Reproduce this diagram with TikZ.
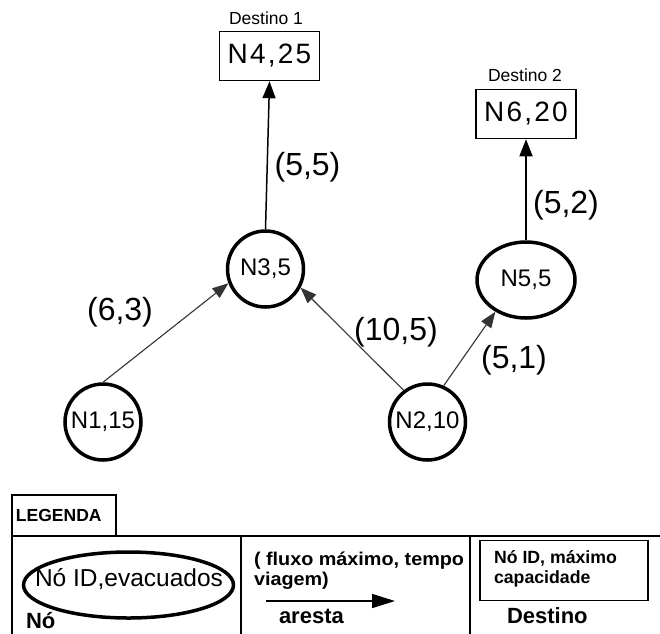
\documentclass[tikz,border=0pt]{standalone}
\usepackage{fontspec}
\setmainfont{Liberation Sans}
\newfontfamily\spacedfont[LetterSpace=8]{Liberation Sans}
\newfontfamily\widefont[FakeStretch=1.07]{Liberation Sans}
\usetikzlibrary{arrows.meta,shapes.geometric}
\newcommand{\fsz}[1]{\fontsize{#1}{#1}\selectfont}
\tikzset{
  circnode/.style={circle, draw, line width=3.5pt, minimum size=76pt, inner sep=0pt, font=\fsz{24}},
  ellnode/.style={ellipse, draw, line width=3.5pt, minimum width=98pt, minimum height=76pt, inner sep=0pt, font=\fsz{24}},
  destbox/.style={rectangle, draw, line width=1.5pt, minimum width=100pt, minimum height=49pt, inner sep=0pt, font=\fsz{28}\spacedfont},
  txt/.style={inner sep=0pt, outer sep=0pt, anchor=base},
  txtw/.style={inner sep=0pt, outer sep=0pt, anchor=base west},
  edgethin/.style={line width=1.1pt, draw=black!80, -{Triangle[length=16pt,width=12pt]}},
  edgethick/.style={line width=1.5pt, -{Triangle[length=17pt,width=13pt]}},
  legline/.style={line width=1.5pt}
}
\begin{document}
\begin{tikzpicture}[x=1pt,y=-1pt]
\useasboundingbox (0,0) rectangle (660,633);
\fill[white] (0,0) rectangle (660,633);

% graph nodes
\node[destbox] (n4) at (269.5,56) {N4,25};
\node[destbox] (n6) at (526,114) {N6,20};
\node[circnode] (n3) at (265.5,269) {N3,5};
\node[ellnode] (n5) at (526,280) {N5,5};
\node[circnode] (n1) at (103,422) {N1,15};
\node[circnode] (n2) at (427.5,422) {N2,10};

% destination captions
\node[txt, font=\fsz{17.5}] (d1) at (266,24) {Destino 1};
\node[txt, font=\fsz{17.5}] (d2) at (525,81) {Destino 2};

% edges
\draw[edgethick] (n3.north) -- (n4.south);
\draw[edgethick] (n5.north) -- (n6.south);
\draw[edgethin] (n1.north) -- (n3.201);
\draw[edgethin] (n2.127) -- (n3.332);
\draw[edgethin] (n2.66) -- (n5.226);

% edge labels
\node[txt, font=\fsz{32}] (l34) at (307.5,175) {(5,5)};
\node[txt, font=\fsz{32}] (l56) at (566,213) {(5,2)};
\node[txt, font=\fsz{32}] (l13) at (120,320) {(6,3)};
\node[txt, font=\fsz{32}] (l23) at (396,340) {(10,5)};
\node[txt, font=\fsz{32}] (l25) at (514,368) {(5,1)};

% legend
\draw[legline] (12,536) rectangle (116,495);
\node[txtw, font=\fsz{17.5}\bfseries] (leg) at (16,521.5) {LEGENDA};
\draw[legline] (660,536) -- (12,536) -- (12,634);
\draw[legline] (241,536) -- (241,634);
\draw[legline] (470,536) -- (470,634);

\node[ellipse, draw, line width=3.5pt, minimum width=210pt, minimum height=66pt, inner sep=0pt] (legell) at (128.5,585) {};
\node[txt, font=\fsz{24.5}] (legelltxt) at (129,586.5) {Nó ID,evacuados};
\node[txtw, font=\fsz{22}\bfseries] (legno) at (26,628) {Nó};

\node[txtw, font=\fsz{18.5}\widefont\bfseries] (legfl1) at (254,565) {( fluxo máximo, tempo};
\node[txtw, font=\fsz{18.5}\widefont\bfseries] (legfl2) at (254,585) {viagem)};
\coordinate (arrA) at (266,601);
\coordinate (arrB) at (395,601);
\draw[line width=1.5pt, -{Triangle[length=23pt,width=14pt]}] (arrA) -- (arrB);
\node[txtw, font=\fsz{22}\bfseries] (legar) at (279,623) {aresta};

\node[rectangle, draw, line width=1.5pt, minimum width=168pt, minimum height=60pt, inner sep=0pt] (legbox) at (564,570.7) {};
\node[txtw, font=\fsz{17.7}\bfseries] (legb1) at (494,563) {Nó ID, máximo};
\node[txtw, font=\fsz{17.7}\bfseries] (legb2) at (494,583) {capacidade};
\node[txtw, font=\fsz{22}\bfseries] (legdest) at (507,623.3) {Destino};
\end{tikzpicture}
\end{document}
